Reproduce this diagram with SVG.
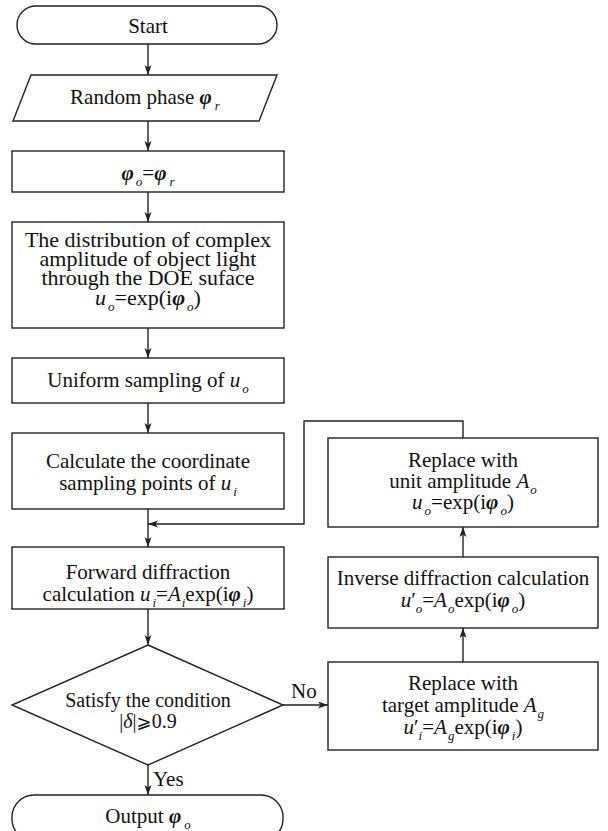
<svg xmlns="http://www.w3.org/2000/svg" width="608" height="831" viewBox="0 0 608 831">
<defs>
<style>
.t{font-family:"Liberation Serif","Times New Roman",serif;font-size:21px;fill:#111;text-anchor:middle}
.i{font-style:italic}
.p{font-style:italic;font-weight:bold}
.s{font-size:13px;font-style:italic;font-weight:normal}
.node{fill:#fff;stroke:#222;stroke-width:1.4}
.edge{fill:none;stroke:#222;stroke-width:1.4}
.lbl{font-family:"Liberation Serif","Times New Roman",serif;font-size:21px;fill:#111}
</style>
<marker id="ah" markerUnits="userSpaceOnUse" markerWidth="11" markerHeight="8" refX="10" refY="3.5" orient="auto">
<path d="M0,0 L10,3.5 L0,7 L2.5,3.5 z" fill="#222"/>
</marker>
</defs>
<rect width="608" height="831" fill="#fff"/>

<g id="connectors">
<line class="edge" x1="148" y1="44" x2="148" y2="75" marker-end="url(#ah)"/>
<line class="edge" x1="148" y1="121" x2="148" y2="151" marker-end="url(#ah)"/>
<line class="edge" x1="148" y1="192" x2="148" y2="222" marker-end="url(#ah)"/>
<line class="edge" x1="148" y1="328" x2="148" y2="358" marker-end="url(#ah)"/>
<line class="edge" x1="148" y1="403" x2="148" y2="433" marker-end="url(#ah)"/>
<line class="edge" x1="148" y1="509" x2="148" y2="547" marker-end="url(#ah)"/>
<line class="edge" x1="148" y1="609" x2="148" y2="645" marker-end="url(#ah)"/>
<line class="edge" x1="148" y1="765" x2="148" y2="795" marker-end="url(#ah)"/>
<line class="edge" x1="283" y1="705" x2="328" y2="705" marker-end="url(#ah)"/>
<line class="edge" x1="463" y1="662" x2="463" y2="628" marker-end="url(#ah)"/>
<line class="edge" x1="463" y1="557" x2="463" y2="527" marker-end="url(#ah)"/>
<polyline class="edge" points="463,438 463,421 304,421 304,524 148,524" marker-end="url(#ah)"/>
<text class="lbl" x="153" y="786">Yes</text>
<text class="lbl" x="291" y="698">No</text>
</g>

<g id="start">
<rect class="node" x="17" y="6" width="260" height="38" rx="19"/>
<text class="t" x="148" y="33">Start</text>
</g>

<g id="random-phase">
<polygon class="node" points="31,75 277,75 259,121 13,121"/>
<text class="t" x="145" y="104">Random phase <tspan class="p">φ</tspan><tspan class="s" dx="3" dy="6">r</tspan></text>
</g>

<g id="init-phase">
<rect class="node" x="12" y="151" width="272" height="41"/>
<text class="t" x="148" y="180"><tspan class="p">φ</tspan><tspan class="s" dx="2" dy="6">o</tspan><tspan dy="-6">=</tspan><tspan class="p">φ</tspan><tspan class="s" dx="3" dy="6">r</tspan></text>
</g>

<g id="distribution">
<rect class="node" x="12" y="222" width="272" height="106"/>
<text class="t" x="148" y="247" style="font-size:22px">The distribution of complex<tspan x="148" dy="19">amplitude of object light</tspan><tspan x="148" dy="19">through the DOE suface</tspan><tspan x="148" dy="20" class="i">u</tspan><tspan class="s" dx="2" dy="6">o</tspan><tspan dy="-6">=exp(i</tspan><tspan class="p">φ</tspan><tspan class="s" dx="2" dy="6">o</tspan><tspan dy="-6">)</tspan></text>
</g>

<g id="uniform">
<rect class="node" x="12" y="358" width="272" height="45"/>
<text class="t" x="148" y="387">Uniform sampling of <tspan class="i">u</tspan><tspan class="s" dx="2" dy="6">o</tspan></text>
</g>

<g id="calculate">
<rect class="node" x="12" y="433" width="272" height="76"/>
<text class="t" x="148" y="468">Calculate the coordinate<tspan x="148" dy="22">sampling points of </tspan><tspan class="i">u</tspan><tspan class="s" dx="2" dy="6">i</tspan></text>
</g>

<g id="forward">
<rect class="node" x="12" y="547" width="272" height="62"/>
<text class="t" x="148" y="579">Forward diffraction<tspan x="148" dy="22">calculation </tspan><tspan class="i">u</tspan><tspan class="s" dx="2" dy="6">i</tspan><tspan dy="-6">=</tspan><tspan class="i">A</tspan><tspan class="s" dx="1" dy="6">i</tspan><tspan dy="-6">exp(i</tspan><tspan class="p">φ</tspan><tspan class="s" dx="2" dy="6">i</tspan><tspan dy="-6">)</tspan></text>
</g>

<g id="condition">
<polygon class="node" points="148,645 283,705 148,765 12,705"/>
<text class="t" x="148" y="707" style="font-size:20px">Satisfy the condition<tspan x="148" dy="21">|</tspan><tspan class="i">δ</tspan>|<tspan style="font-family:'DejaVu Sans',sans-serif;font-size:18px">⩾</tspan>0.9</text>
</g>

<g id="output">
<rect class="node" x="12" y="795" width="271" height="46" rx="22"/>
<text class="t" x="148" y="823">Output <tspan class="p">φ</tspan><tspan class="s" dx="3" dy="6">o</tspan></text>
</g>

<g id="unit-amplitude">
<rect class="node" x="328" y="438" width="270" height="89"/>
<text class="t" x="463" y="467">Replace with<tspan x="463" dy="21">unit amplitude </tspan><tspan class="i">A</tspan><tspan class="s" dx="1" dy="6">o</tspan><tspan x="463" dy="15" class="i">u</tspan><tspan class="s" dx="2" dy="6">o</tspan><tspan dy="-6">=exp(i</tspan><tspan class="p">φ</tspan><tspan class="s" dx="2" dy="6">o</tspan><tspan dy="-6">)</tspan></text>
</g>

<g id="inverse">
<rect class="node" x="328" y="557" width="270" height="71"/>
<text class="t" x="463" y="585">Inverse diffraction calculation<tspan x="463" dy="22" class="i">u</tspan>′<tspan class="s" dy="6">o</tspan><tspan dy="-6">=</tspan><tspan class="i">A</tspan><tspan class="s" dx="1" dy="6">o</tspan><tspan dy="-6">exp(i</tspan><tspan class="p">φ</tspan><tspan class="s" dx="2" dy="6">o</tspan><tspan dy="-6">)</tspan></text>
</g>

<g id="target-amplitude">
<rect class="node" x="328" y="662" width="270" height="88"/>
<text class="t" x="463" y="690">Replace with<tspan x="463" dy="22">target amplitude </tspan><tspan class="i">A</tspan><tspan class="s" dx="1" dy="6">g</tspan><tspan x="463" dy="16" class="i">u</tspan>′<tspan class="s" dy="6">i</tspan><tspan dy="-6">=</tspan><tspan class="i">A</tspan><tspan class="s" dx="1" dy="6">g</tspan><tspan dy="-6">exp(i</tspan><tspan class="p">φ</tspan><tspan class="s" dx="2" dy="6">i</tspan><tspan dy="-6">)</tspan></text>
</g>
</svg>
